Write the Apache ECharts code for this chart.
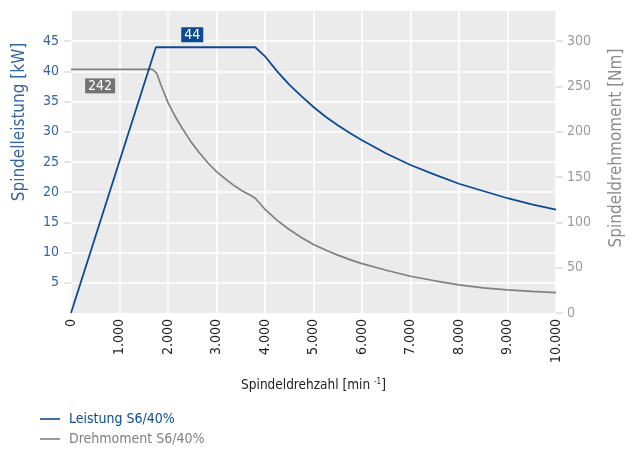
<!DOCTYPE html>
<html>
<head>
<meta charset="utf-8">
<script src="https://cdn.jsdelivr.net/npm/echarts@6/dist/echarts.min.js"></script>
<style>
  html, body { margin: 0; padding: 0; background: #ffffff; }
  #chart { width: 635px; height: 449px; }
</style>
</head>
<body>
<div id="chart"></div>
<script>
// Spindle speed [rpm] / power [kW] pairs for S6/40% duty
const powerRpm = [0, 1750, 2500, 3800, 4000, 4250, 4500, 4750, 5000, 5250, 5500, 5750, 6000, 6500, 7000, 7500, 8000, 8500, 9000, 9500, 10000];
const powerKw  = [0, 44, 44, 44, 42.5, 40.0, 37.8, 35.9, 34.1, 32.5, 31.1, 29.8, 28.6, 26.4, 24.5, 22.9, 21.4, 20.2, 19.0, 18.0, 17.1];

// Spindle speed [rpm] / torque [Nm] pairs for S6/40% duty
const torqueRpm = [0, 600, 1680, 1770, 1850, 2000, 2150, 2300, 2475, 2650, 2825, 3000, 3175, 3350, 3525, 3700, 3800,
                   4000, 4250, 4500, 4750, 5000, 5250, 5500, 5750, 6000, 6500, 7000, 7500, 8000, 8500, 9000, 9500, 10000];
const torqueNm  = [242, 242, 242, 238, 227, 209, 195, 183, 170, 159, 149, 140.5, 133.5, 127, 121.5, 117, 114,
                   103, 92, 83, 75, 68, 62.5, 57.5, 53, 49, 42.5, 36.5, 32, 28, 25, 23, 21.5, 20.2];

// Tick labels
const rpmTicks    = [0, 1000, 2000, 3000, 4000, 5000, 6000, 7000, 8000, 9000, 10000];
const powerTicks  = [5, 10, 15, 20, 25, 30, 35, 40, 45];
const torqueTicks = [0, 50, 100, 150, 200, 250, 300];

// Speeds whose value is written in a box on the curve
const powerLabelRpm = 2500;
const torqueLabelRpm = 600;

const BLUE = '#0d4a93';
const BLUE_TEXT = '#3564a3';
const GREY = '#808080';
const GREY_TEXT = '#9a9a9a';
const FONT = "'Liberation Sans Narrow', 'DejaVu Sans Condensed', 'Roboto Condensed', Roboto, sans-serif";
const LINE_ICON = 'path://M0,0 L20,0 L20,1.6 L0,1.6 Z';

function fmtThousands(v) {
  const s = String(Math.round(v));
  return s.replace(/\B(?=(\d{3})+(?!\d))/g, '.');
}

function pairs(xs, ys) {
  return xs.map((x, i) => [x, ys[i]]);
}

function valueBox(xs, ys, atX, bg, position, distance) {
  const v = ys[xs.indexOf(atX)];
  return {
    symbol: 'rect',
    symbolSize: 0,
    silent: true,
    label: {
      show: true,
      position: position,
      distance: distance,
      color: '#ffffff',
      backgroundColor: bg,
      fontSize: 14,
      fontFamily: FONT,
      padding: [1, 3, 0, 3],
      formatter: '{c}'
    },
    data: [{ coord: [atX, v], value: v }]
  };
}

const chart = echarts.init(document.getElementById('chart'), null, { renderer: 'canvas' });

chart.setOption({
  animation: false,
  textStyle: { fontFamily: FONT },
  grid: { left: 71, right: 79, top: 11, bottom: 136, show: true, backgroundColor: '#ebebeb', borderWidth: 0 },
  legend: {
    orient: 'vertical',
    left: 40,
    top: 412,
    height: 60,
    padding: 0,
    itemWidth: 20,
    itemHeight: 14,
    itemGap: 6,
    data: [
      { name: 'Leistung S6/40%', icon: LINE_ICON, itemStyle: { color: BLUE }, textStyle: { color: BLUE } },
      { name: 'Drehmoment S6/40%', icon: LINE_ICON, itemStyle: { color: GREY }, textStyle: { color: GREY } }
    ],
    textStyle: { fontSize: 14, fontFamily: FONT, padding: [0, 0, 0, 4] }
  },
  xAxis: {
    type: 'value',
    min: 0,
    max: 10000,
    interval: 1000,
    name: 'Spindeldrehzahl [min {sup|-1}]',
    nameLocation: 'middle',
    nameGap: 65,
    nameTextStyle: {
      color: '#222', fontSize: 13.5, fontFamily: FONT,
      rich: { sup: { fontSize: 8, color: '#222', verticalAlign: 'top', padding: [0, 0, 7, 0], fontFamily: FONT } }
    },
    axisLine: { show: false },
    axisTick: { show: false },
    axisLabel: {
      rotate: 90,
      margin: 6,
      color: '#222',
      fontSize: 14,
      fontFamily: FONT,
      customValues: rpmTicks,
      formatter: v => fmtThousands(v)
    },
    splitLine: { show: true, lineStyle: { color: '#ffffff', width: 1.5 } }
  },
  yAxis: [
    {
      type: 'value',
      position: 'left',
      min: 0,
      max: 50,
      interval: 5,
      axisLine: { show: false },
      axisTick: { show: true, length: 7, customValues: powerTicks, lineStyle: { color: '#dcdcdc', width: 1.5 } },
      axisLabel: { color: BLUE_TEXT, fontSize: 14, margin: 12, customValues: powerTicks, fontFamily: FONT },
      splitLine: { show: true, lineStyle: { color: '#ffffff', width: 1.5 } }
    },
    {
      type: 'value',
      position: 'right',
      min: 0,
      max: 50 * 300 / 45,
      interval: 50,
      axisLine: { show: false },
      axisTick: { show: true, length: 7, customValues: torqueTicks, lineStyle: { color: '#dcdcdc', width: 1.5 } },
      axisLabel: { color: GREY_TEXT, fontSize: 14, margin: 11, customValues: torqueTicks, fontFamily: FONT },
      splitLine: { show: false }
    },
    {
      // torque curve scale: 0-300 Nm over the full plot height
      type: 'value',
      show: false,
      min: 0,
      max: 300,
      splitLine: { show: false }
    }
  ],
  graphic: [
    {
      type: 'text',
      rotation: Math.PI / 2,
      x: 20,
      y: 122,
      style: {
        text: 'Spindelleistung [kW]',
        fill: BLUE_TEXT,
        font: '17px ' + FONT,
        textAlign: 'center',
        textVerticalAlign: 'middle'
      }
    },
    {
      type: 'text',
      rotation: Math.PI / 2,
      x: 617,
      y: 148,
      style: {
        text: 'Spindeldrehmoment [Nm]',
        fill: '#8c8c8c',
        font: '17px ' + FONT,
        textAlign: 'center',
        textVerticalAlign: 'middle'
      }
    }
  ],
  series: [
    {
      name: 'Leistung S6/40%',
      type: 'line',
      yAxisIndex: 0,
      symbol: 'none',
      smooth: false,
      lineStyle: { color: BLUE, width: 1.8 },
      itemStyle: { color: BLUE },
      data: pairs(powerRpm, powerKw),
      markPoint: valueBox(powerRpm, powerKw, powerLabelRpm, BLUE, 'top', 5),
      z: 3
    },
    {
      name: 'Drehmoment S6/40%',
      type: 'line',
      yAxisIndex: 2,
      symbol: 'none',
      smooth: false,
      lineStyle: { color: GREY, width: 1.7 },
      itemStyle: { color: GREY },
      data: pairs(torqueRpm, torqueNm),
      markPoint: valueBox(torqueRpm, torqueNm, torqueLabelRpm, '#737373', 'bottom', 9),
      z: 2
    }
  ]
});
</script>
</body>
</html>
